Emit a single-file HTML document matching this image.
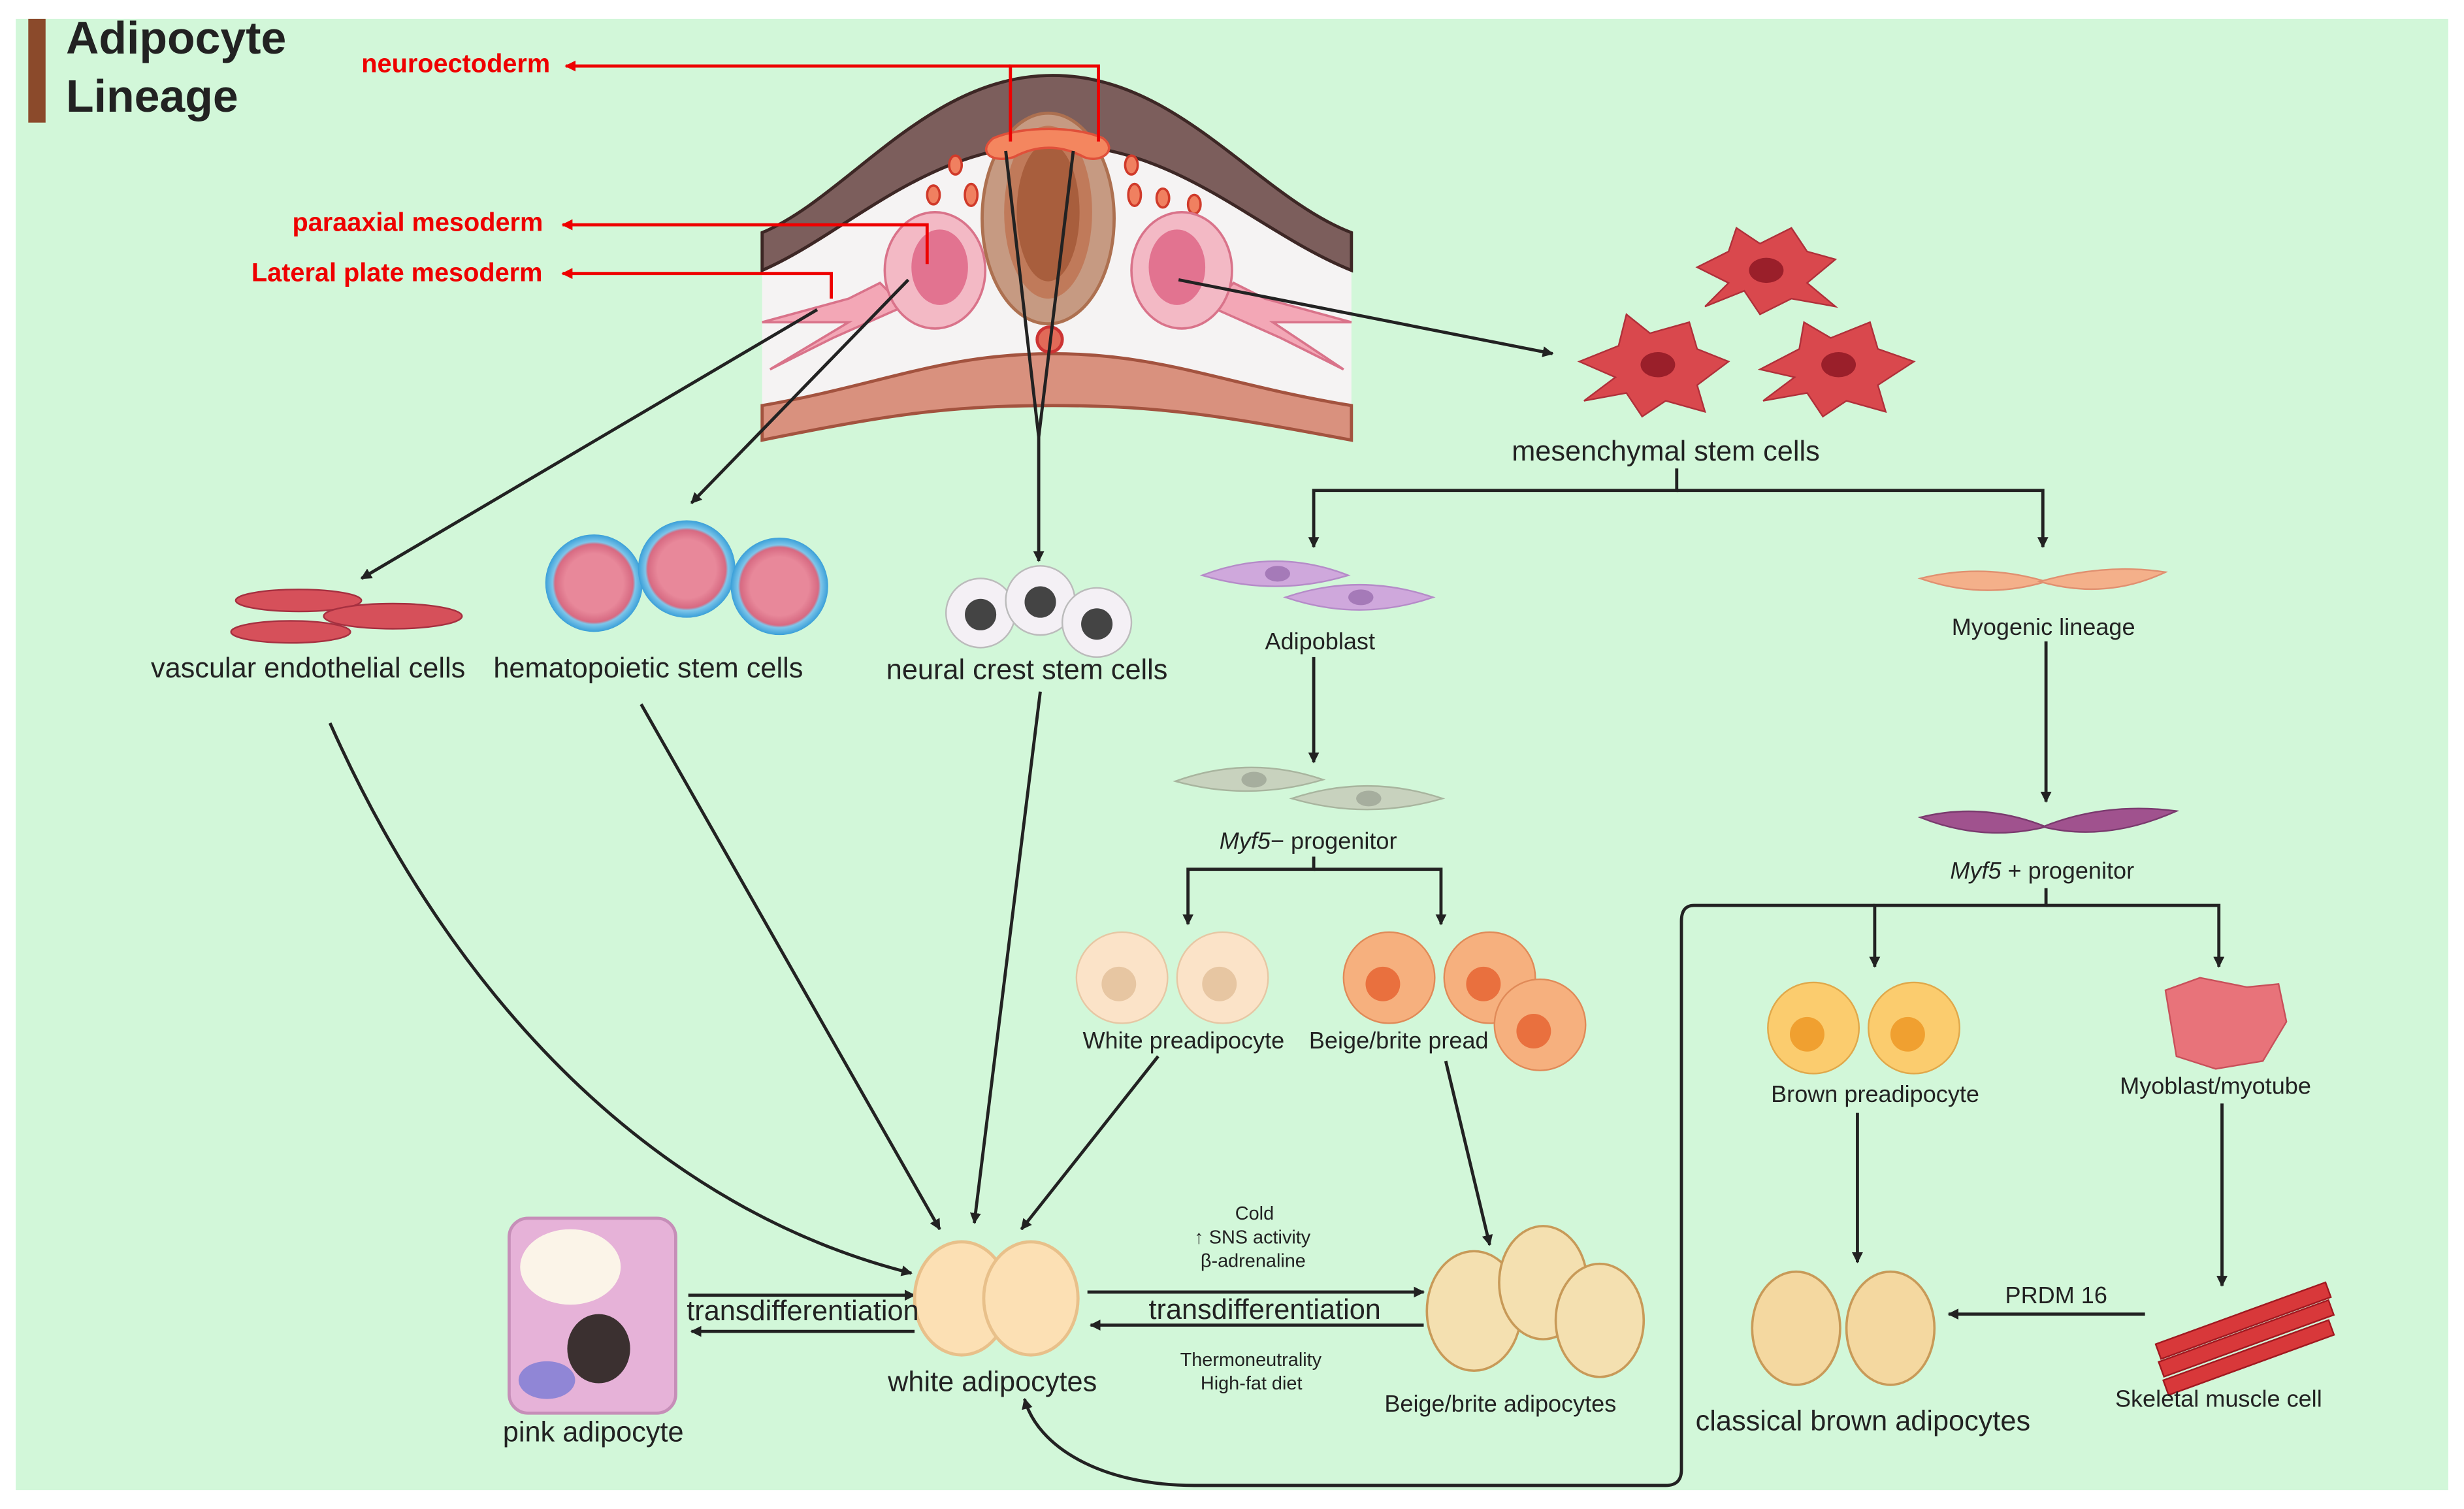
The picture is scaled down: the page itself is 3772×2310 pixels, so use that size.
<!DOCTYPE html>
<html><head><meta charset="utf-8"><style>
html,body{margin:0;padding:0;background:#fff;width:3772px;height:2310px;overflow:hidden}
svg{display:block}
text{font-family:"Liberation Sans",sans-serif;fill:#222}
</style></head><body>
<svg width="3772" height="2310" viewBox="0 0 1568 960" preserveAspectRatio="none" xmlns="http://www.w3.org/2000/svg">
<defs>
<marker id="a" viewBox="0 0 10 10" refX="9" refY="5" markerWidth="7" markerHeight="7" orient="auto-start-reverse" markerUnits="userSpaceOnUse"><path d="M0,0L10,5L0,10z" fill="#222"/></marker>
<marker id="r" viewBox="0 0 10 10" refX="9" refY="5" markerWidth="7" markerHeight="7" orient="auto-start-reverse" markerUnits="userSpaceOnUse"><path d="M0,0L10,5L0,10z" fill="#e00"/></marker>
<radialGradient id="hsc"><stop offset="0.6" stop-color="#e8889a"/><stop offset="0.8" stop-color="#d76a82"/><stop offset="0.85" stop-color="#7ec6ea"/><stop offset="1" stop-color="#3a9fd8"/></radialGradient>
</defs>
<rect x="10" y="12" width="1548" height="936" fill="#d2f7d9"/>
<rect x="18" y="12" width="11" height="66" fill="#8b4a2b"/>
<text x="42" y="34" font-size="29" font-weight="bold">Adipocyte</text>
<text x="42" y="71" font-size="29" font-weight="bold">Lineage</text>

<!-- embryo -->
<path d="M485,160 C560,130 600,55 670,55 C740,55 780,130 860,160 L860,280 C780,260 740,245 670,245 C600,245 560,260 485,280 Z" fill="#f5f3f3"/>
<path d="M485,148 C540,125 590,48 670,48 C750,48 800,125 860,148 L860,172 C800,148 750,92 670,92 C590,92 540,148 485,172 Z" fill="#7c5e5c" stroke="#3d2725" stroke-width="2"/>
<path d="M485,258 C560,245 600,225 670,225 C740,225 780,245 860,258 L860,280 C780,265 740,258 670,258 C600,258 560,265 485,280 Z" fill="#d9917e" stroke="#a3533f" stroke-width="2"/>
<ellipse cx="667" cy="139" rx="42" ry="67" fill="#c69a82" stroke="#ad7050" stroke-width="2"/>
<ellipse cx="667" cy="135" rx="28" ry="55" fill="#c07a5a"/>
<ellipse cx="667" cy="135" rx="20" ry="44" fill="#a85e3d"/>
<circle cx="668" cy="216" r="8" fill="#e16a58" stroke="#c33" stroke-width="2"/>
<path d="M632,88 C650,80 685,80 702,88 C712,96 700,104 690,100 C675,92 660,92 645,100 C630,104 622,96 632,88Z" fill="#f4865f" stroke="#e0503a" stroke-width="1.5"/>
<g fill="#f08060" stroke="#d03a2a" stroke-width="1.5">
<ellipse cx="608" cy="105" rx="4" ry="6"/><ellipse cx="594" cy="124" rx="4" ry="6"/><ellipse cx="618" cy="124" rx="4" ry="7"/>
<ellipse cx="720" cy="105" rx="4" ry="6"/><ellipse cx="722" cy="124" rx="4" ry="7"/><ellipse cx="740" cy="126" rx="4" ry="6"/><ellipse cx="760" cy="130" rx="4" ry="6"/>
</g>
<g fill="#f3a7b6" stroke="#d9738a" stroke-width="1.5">
<path d="M485,205 L540,190 L560,180 L575,195 L530,215 L490,235 L540,205 Z"/>
<path d="M860,205 L805,190 L785,180 L770,195 L815,215 L855,235 L810,205 Z"/>
</g>
<ellipse cx="595" cy="172" rx="32" ry="37" fill="#f3b9c5" stroke="#d9738a" stroke-width="1.5"/>
<ellipse cx="598" cy="170" rx="18" ry="24" fill="#e27390"/>
<ellipse cx="752" cy="172" rx="32" ry="37" fill="#f3b9c5" stroke="#d9738a" stroke-width="1.5"/>
<ellipse cx="749" cy="170" rx="18" ry="24" fill="#e27390"/>

<!-- red labels -->
<g stroke="#e00" stroke-width="2" fill="none">
<path d="M643,90 V42 H699 V90"/><path d="M643,42 H360" marker-end="url(#r)"/>
<path d="M590,168 V143 H358" marker-end="url(#r)"/>
<path d="M529,190 V174 H358" marker-end="url(#r)"/>
</g>
<g font-weight="bold" font-size="16.5">
<text x="230" y="46" style="fill:#e00">neuroectoderm</text>
<text x="186" y="147" style="fill:#e00">paraaxial mesoderm</text>
<text x="160" y="179" style="fill:#e00">Lateral plate mesoderm</text>
</g>

<!-- arrows -->
<g stroke="#222" stroke-width="2" fill="none">
<path d="M640,96 L661,278 L683,96"/>
<path d="M661,278 V357" marker-end="url(#a)"/>
<path d="M520,197 L230,368" marker-end="url(#a)"/>
<path d="M578,178 L440,320" marker-end="url(#a)"/>
<path d="M750,178 L988,225" marker-end="url(#a)"/>
<path d="M1067,298 V312 H836 V348" marker-end="url(#a)"/>
<path d="M1067,312 H1300 V348" marker-end="url(#a)"/>
<path d="M836,418 V485" marker-end="url(#a)"/>
<path d="M1302,408 V510" marker-end="url(#a)"/>
<path d="M836,545 V553 H756 V588" marker-end="url(#a)"/>
<path d="M836,553 H917 V588" marker-end="url(#a)"/>
<path d="M1302,565 V576 H1193 V615" marker-end="url(#a)"/>
<path d="M1302,576 H1412 V615" marker-end="url(#a)"/>
<path d="M1193,576 H1078 Q1070,576 1070,586 V935 Q1070,945 1060,945 H760 C700,945 660,920 652,890" marker-end="url(#a)"/>
<path d="M210,460 C290,640 420,770 580,810" marker-end="url(#a)"/>
<path d="M408,448 L598,782" marker-end="url(#a)"/>
<path d="M662,440 L620,778" marker-end="url(#a)"/>
<path d="M737,672 L650,782" marker-end="url(#a)"/>
<path d="M920,675 L948,792" marker-end="url(#a)"/>
<path d="M1182,708 V803" marker-end="url(#a)"/>
<path d="M1414,702 V818" marker-end="url(#a)"/>
<path d="M1365,836 H1240" marker-end="url(#a)"/>
<path d="M438,824 H582" marker-end="url(#a)"/>
<path d="M582,847 H440" marker-end="url(#a)"/>
<path d="M692,822 H906" marker-end="url(#a)"/>
<path d="M906,843 H694" marker-end="url(#a)"/>
</g>

<!-- MSC -->
<g fill="#d9484d" stroke="#b0303a" stroke-width="1">
<path d="M1080,170 L1100,160 L1105,145 L1120,155 L1140,145 L1150,160 L1168,165 L1150,180 L1168,195 L1140,190 L1120,200 L1110,185 L1085,195 L1100,180 Z"/>
<path d="M1005,230 L1030,220 L1035,200 L1050,212 L1075,205 L1080,222 L1100,230 L1080,245 L1085,262 L1060,255 L1045,265 L1035,250 L1008,255 L1028,240 Z"/>
<path d="M1120,235 L1145,222 L1148,205 L1165,215 L1190,205 L1195,222 L1218,230 L1195,245 L1200,262 L1175,255 L1160,265 L1150,250 L1122,255 L1142,240 Z"/>
</g>
<g fill="#9a1f2a"><ellipse cx="1124" cy="172" rx="11" ry="8"/><ellipse cx="1055" cy="232" rx="11" ry="8"/><ellipse cx="1170" cy="232" rx="11" ry="8"/></g>

<!-- vascular -->
<g fill="#d6505a" stroke="#a63040"><ellipse cx="190" cy="382" rx="40" ry="7"/><ellipse cx="250" cy="392" rx="44" ry="8"/><ellipse cx="185" cy="402" rx="38" ry="7"/></g>
<!-- HSC -->
<circle cx="378" cy="371" r="31" fill="url(#hsc)"/><circle cx="437" cy="362" r="31" fill="url(#hsc)"/><circle cx="496" cy="373" r="31" fill="url(#hsc)"/>
<!-- neural crest -->
<g fill="#f4f0f5" stroke="#bbb"><circle cx="624" cy="390" r="22"/><circle cx="662" cy="382" r="22"/><circle cx="698" cy="396" r="22"/></g>
<g fill="#444"><circle cx="624" cy="391" r="10"/><circle cx="662" cy="383" r="10"/><circle cx="698" cy="397" r="10"/></g>
<!-- adipoblast -->
<g fill="#cfa8dc" stroke="#b58bc8"><path d="M765,366 Q812,348 858,366 Q812,380 765,366Z"/><path d="M818,380 Q865,364 912,380 Q865,396 818,380Z"/></g>
<g fill="#a57ab8"><ellipse cx="813" cy="365" rx="8" ry="5"/><ellipse cx="866" cy="380" rx="8" ry="5"/></g>
<!-- myogenic -->
<g fill="#f4b08a" stroke="#e09070"><path d="M1222,368 Q1262,382 1302,370 Q1262,358 1222,368Z"/><path d="M1298,370 Q1340,382 1378,364 Q1340,358 1298,370Z"/></g>
<!-- myf5- -->
<g fill="#c8d2be" stroke="#a8b49e"><path d="M748,497 Q795,480 842,496 Q795,510 748,497Z"/><path d="M822,508 Q870,492 918,508 Q870,522 822,508Z"/></g>
<g fill="#a6ae9e"><ellipse cx="798" cy="496" rx="8" ry="5"/><ellipse cx="871" cy="508" rx="8" ry="5"/></g>
<!-- myf5+ -->
<g fill="#a0528e" stroke="#7a3a6e"><path d="M1222,520 Q1262,536 1302,526 Q1262,510 1222,520Z"/><path d="M1300,526 Q1340,536 1385,516 Q1340,510 1300,526Z"/></g>
<!-- white preadipocyte -->
<g fill="#fbe3c8" stroke="#e6c7a4"><circle cx="714" cy="622" r="29"/><circle cx="778" cy="622" r="29"/></g>
<g fill="#e7c6a2"><circle cx="712" cy="626" r="11"/><circle cx="776" cy="626" r="11"/></g>
<!-- beige preadipocyte -->
<g fill="#f6b07e" stroke="#e08a58"><circle cx="884" cy="622" r="29"/><circle cx="948" cy="622" r="29"/><circle cx="980" cy="652" r="29"/></g>
<g fill="#e9703e"><circle cx="880" cy="626" r="11"/><circle cx="944" cy="626" r="11"/><circle cx="976" cy="656" r="11"/></g>
<!-- brown preadipocyte -->
<g fill="#fbcc6e" stroke="#e0a84a"><circle cx="1154" cy="654" r="29"/><circle cx="1218" cy="654" r="29"/></g>
<g fill="#f0a030"><circle cx="1150" cy="658" r="11"/><circle cx="1214" cy="658" r="11"/></g>
<!-- myoblast -->
<path d="M1378,630 L1400,622 L1430,628 L1450,626 L1455,650 L1440,675 L1410,680 L1385,672 Z" fill="#e8737a" stroke="#c8505a"/>
<!-- pink adipocyte -->
<rect x="324" y="775" width="106" height="124" rx="12" fill="#e6b2d8" stroke="#c68eb8" stroke-width="2"/>
<ellipse cx="363" cy="806" rx="32" ry="24" fill="#fbf4e8"/>
<ellipse cx="381" cy="858" rx="20" ry="22" fill="#3b3030"/>
<ellipse cx="348" cy="878" rx="18" ry="12" fill="#7a7ad6" opacity="0.8"/>
<!-- white adipocytes -->
<g fill="#fce0b4" stroke="#e8c08a" stroke-width="2"><ellipse cx="612" cy="826" rx="30" ry="36"/><ellipse cx="656" cy="826" rx="30" ry="36"/></g>
<!-- beige adipocytes -->
<g fill="#f4e0b0" stroke="#c89a58" stroke-width="1.5"><ellipse cx="938" cy="834" rx="30" ry="38"/><ellipse cx="982" cy="816" rx="28" ry="36"/><ellipse cx="1018" cy="840" rx="28" ry="36"/></g>
<!-- brown adipocytes -->
<g fill="#f4d8a0" stroke="#c89a58" stroke-width="1.5"><ellipse cx="1143" cy="845" rx="28" ry="36"/><ellipse cx="1203" cy="845" rx="28" ry="36"/></g>
<!-- skeletal muscle -->
<g fill="#d8383a" stroke="#a01820"><rect x="1370" y="835" width="115" height="10" transform="rotate(-20 1428 840)"/><rect x="1372" y="847" width="115" height="10" transform="rotate(-20 1428 852)"/><rect x="1375" y="859" width="112" height="10" transform="rotate(-20 1430 864)"/></g>

<!-- labels -->
<g font-size="18">
<text x="96" y="431">vascular endothelial cells</text>
<text x="314" y="431">hematopoietic stem cells</text>
<text x="564" y="432">neural crest stem cells</text>
<text x="962" y="293">mesenchymal stem cells</text>
<text x="565" y="885">white adipocytes</text>
<text x="320" y="917">pink adipocyte</text>
<text x="1079" y="910">classical brown adipocytes</text>
<text x="437" y="840">transdifferentiation</text>
<text x="731" y="839">transdifferentiation</text>
</g>
<g font-size="15">
<text x="805" y="413">Adipoblast</text>
<text x="1242" y="404">Myogenic lineage</text>
<text x="776" y="540"><tspan font-style="italic">Myf5</tspan>− progenitor</text>
<text x="1241" y="559"><tspan font-style="italic">Myf5</tspan> + progenitor</text>
<text x="689" y="667">White preadipocyte</text>
<text x="833" y="667">Beige/brite pread</text>
<text x="1127" y="701">Brown preadipocyte</text>
<text x="1349" y="696">Myoblast/myotube</text>
<text x="881" y="898">Beige/brite adipocytes</text>
<text x="1346" y="895">Skeletal muscle cell</text>
<text x="1276" y="829">PRDM 16</text>
</g>
<g font-size="12">
<text x="786" y="776">Cold</text>
<text x="760" y="791">↑ SNS activity</text>
<text x="764" y="806">β-adrenaline</text>
<text x="751" y="869">Thermoneutrality</text>
<text x="764" y="884">High-fat diet</text>
</g>
</svg>
</body></html>
